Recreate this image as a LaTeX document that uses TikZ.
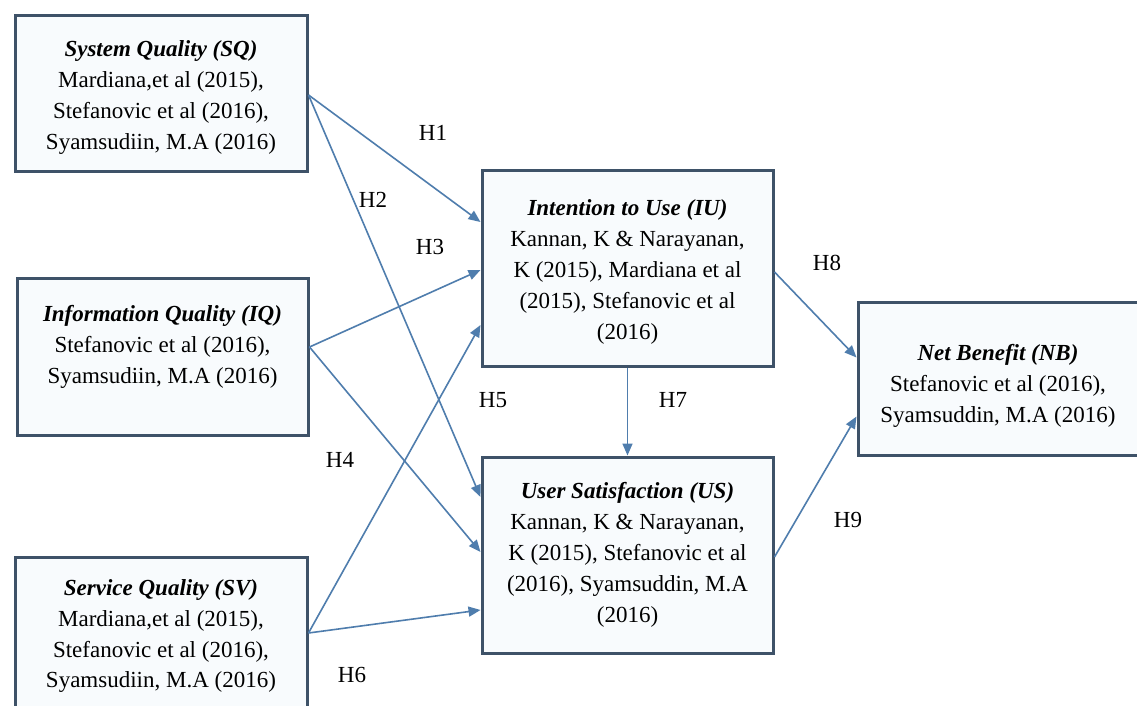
\documentclass[tikz,border=0pt]{standalone}
\usepackage{fontspec}
\setmainfont{Liberation Serif}
\usetikzlibrary{calc,arrows.meta}
\definecolor{boxline}{HTML}{3E5268}
\definecolor{boxfill}{HTML}{F8FBFD}
\definecolor{arrowcol}{HTML}{4F7DAD}
\tikzset{
  box/.style={draw=boxline, line width=1.5pt, fill=boxfill, inner sep=0pt},
  txt/.style={align=center, inner sep=0pt, font=\fontsize{11.5}{15.5}\selectfont},
  hyp/.style={inner sep=0pt, font=\fontsize{11.5}{14}\selectfont},
  link/.style={draw=arrowcol, line width=0.8pt, -{Triangle[length=6pt,width=5pt]}},
}
\newcommand{\ttl}[1]{\textbf{\textit{#1}}}
\begin{document}
\begin{tikzpicture}[x=0.5pt,y=-0.5pt]
\clip (0,0) rectangle (1137,706);
\fill[white] (0,0) rectangle (1137,706);
% boxes
\node[box, minimum width=146pt, minimum height=78pt] (sq) at (161,94) {};
\node[box, minimum width=145.5pt, minimum height=78pt] (iq) at (162.5,357) {};
\node[box, minimum width=146pt, minimum height=78pt] (sv) at (161,635) {};
\node[box, minimum width=145.5pt, minimum height=97.5pt] (iu) at (627.5,268.5) {};
\node[box, minimum width=145.5pt, minimum height=98pt] (us) at (627.5,555) {};
\node[box, minimum width=140pt, minimum height=76.5pt] (nb) at (998,379) {};
% texts
\node[txt] (sqt) at ($(sq.center)+(0,4)$) {\ttl{System Quality (SQ)}\\Mardiana,et al (2015),\\Stefanovic et al (2016),\\Syamsudiin, M.A (2016)};
\node[txt] (iqt) at ($(iq.center)+(0,-10)$) {\ttl{Information Quality (IQ)}\\Stefanovic et al (2016),\\Syamsudiin, M.A (2016)};
\node[txt] (svt) at ($(sv.center)+(0,1)$) {\ttl{Service Quality (SV)}\\Mardiana,et al (2015),\\Stefanovic et al (2016),\\Syamsudiin, M.A (2016)};
\node[txt] (iut) at ($(iu.center)+(0,3)$) {\ttl{Intention to Use (IU)}\\Kannan, K \& Narayanan,\\K (2015), Mardiana et al\\(2015), Stefanovic et al\\(2016)};
\node[txt] (ust) at ($(us.center)+(0,0)$) {\ttl{User Satisfaction (US)}\\Kannan, K \& Narayanan,\\K (2015), Stefanovic et al\\(2016), Syamsuddin, M.A\\(2016)};
\node[txt] (nbt) at ($(nb.center)+(0,7)$) {\ttl{Net Benefit (NB)}\\Stefanovic et al (2016),\\Syamsuddin, M.A (2016)};
% connectors
\draw[link] ($(sq.east)+(0,1)$) -- ($(iu.west)+(0,-46.5)$);
\draw[link] ($(sq.east)+(0,1)$) -- ($(us.west)+(0,-58)$);
\draw[link] ($(iq.east)+(0,-10)$) -- ($(iu.west)+(0,1.5)$);
\draw[link] ($(iq.east)+(0,-10)$) -- ($(us.west)+(0,-3)$);
\draw[link] ($(sv.east)+(0,-2)$) -- ($(iu.west)+(0,56.5)$);
\draw[link] ($(sv.east)+(0,-2)$) -- ($(us.west)+(0,55)$);
\draw[link] (iu.south) -- (us.north);
\draw[link] ($(iu.east)+(0,3.5)$) -- ($(nb.west)+(0,-21.5)$);
\draw[link] ($(us.east)+(0,2)$) -- ($(nb.west)+(0,37.5)$);
% labels
\node[hyp] (h1) at (433,133) {H1};
\node[hyp] (h2) at (373,200) {H2};
\node[hyp] (h3) at (430,247) {H3};
\node[hyp] (h4) at (340,460) {H4};
\node[hyp] (h5) at (493,400) {H5};
\node[hyp] (h6) at (352,675) {H6};
\node[hyp] (h7) at (673,400) {H7};
\node[hyp] (h8) at (827,263) {H8};
\node[hyp] (h9) at (848,520) {H9};
\end{tikzpicture}
\end{document}
